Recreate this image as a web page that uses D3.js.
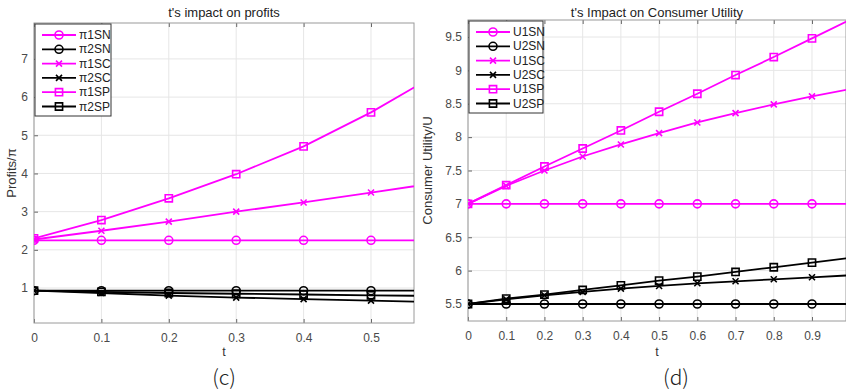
<!DOCTYPE html>
<html>
<head>
<meta charset="utf-8">
<script src="https://cdn.jsdelivr.net/npm/d3@7"></script>
<style>
  body { margin: 0; background: #fff; }
  svg { font-family: "Liberation Sans", Arial, sans-serif; }
  .grid line { stroke: #e6e6e6; stroke-width: 1; }
  .tick text { fill: #4a4a4a; font-size: 12px; }
</style>
</head>
<body>
<svg width="846" height="392"></svg>
<script>
// t values
var tLeft = [0, 0.1, 0.2, 0.3, 0.4, 0.5, 0.6];
var tRight = [0, 0.1, 0.2, 0.3, 0.4, 0.5, 0.6, 0.7, 0.8, 0.9, 1.0];

// profits (c)
var pi1SN = [2.25, 2.25, 2.25, 2.25, 2.25, 2.25, 2.25];
var pi2SN = [0.93, 0.93, 0.93, 0.93, 0.93, 0.93, 0.93];
var pi1SC = [2.27, 2.50, 2.74, 3.00, 3.24, 3.50, 3.76];
var pi2SC = [0.93, 0.87, 0.80, 0.75, 0.71, 0.67, 0.63];
var pi1SP = [2.30, 2.78, 3.35, 3.98, 4.71, 5.60, 6.62];
var pi2SP = [0.93, 0.90, 0.87, 0.85, 0.83, 0.81, 0.79];

// consumer utility (d)
var U1SN = [7, 7, 7, 7, 7, 7, 7, 7, 7, 7, 7];
var U2SN = [5.5, 5.5, 5.5, 5.5, 5.5, 5.5, 5.5, 5.5, 5.5, 5.5, 5.5];
var U1SC = [7, 7.27, 7.50, 7.71, 7.89, 8.06, 8.22, 8.36, 8.49, 8.61, 8.72];
var U2SC = [5.5, 5.57, 5.63, 5.68, 5.73, 5.77, 5.81, 5.84, 5.87, 5.90, 5.93];
var U1SP = [7, 7.28, 7.56, 7.83, 8.10, 8.38, 8.65, 8.93, 9.20, 9.48, 9.76];
var U2SP = [5.5, 5.58, 5.64, 5.71, 5.78, 5.85, 5.91, 5.98, 6.05, 6.12, 6.19];

var leftTicksX = [0, 0.1, 0.2, 0.3, 0.4, 0.5];
var leftTicksY = [1, 2, 3, 4, 5, 6, 7];
var rightTicksX = [0, 0.1, 0.2, 0.3, 0.4, 0.5, 0.6, 0.7, 0.8, 0.9];
var rightTicksY = [5.5, 6, 6.5, 7, 7.5, 8, 8.5, 9, 9.5];

var magenta = "#ff00ff", black = "#000000";

var svg = d3.select("svg");

function drawPanel(opt) {
  var x = d3.scaleLinear().domain(opt.xDomain).range([opt.left, opt.right]);
  var y = d3.scaleLinear().domain(opt.yDomain).range([opt.bottom, opt.top]);
  var g = svg.append("g");
  var w = opt.right - opt.left, h = opt.bottom - opt.top;

  // grid
  var grid = g.append("g").attr("class", "grid");
  grid.selectAll(".gx").data(opt.xTicks).enter().append("line")
      .attr("x1", function(d) { return x(d); }).attr("x2", function(d) { return x(d); })
      .attr("y1", opt.top).attr("y2", opt.bottom);
  grid.selectAll(".gy").data(opt.yTicks).enter().append("line")
      .attr("y1", function(d) { return y(d); }).attr("y2", function(d) { return y(d); })
      .attr("x1", opt.left).attr("x2", opt.right);

  // axes
  var fmt = function(d) { return String(d); };
  g.append("g").attr("transform", "translate(0," + opt.bottom + ")")
      .call(d3.axisBottom(x).tickValues(opt.xTicks).tickFormat(fmt).tickSizeInner(-4).tickSizeOuter(0).tickPadding(10))
      .call(function(a) { a.select(".domain").remove(); a.selectAll("line").attr("stroke", "#666"); });
  g.append("g").attr("transform", "translate(" + opt.left + ",0)")
      .call(d3.axisLeft(y).tickValues(opt.yTicks).tickFormat(fmt).tickSizeInner(-4).tickSizeOuter(0).tickPadding(6))
      .call(function(a) { a.select(".domain").remove(); a.selectAll("line").attr("stroke", "#666"); });
  g.append("g").attr("transform", "translate(0," + opt.top + ")")
      .call(d3.axisTop(x).tickValues(opt.xTicks).tickFormat("").tickSizeInner(-4).tickSizeOuter(0))
      .call(function(a) { a.select(".domain").remove(); a.selectAll("line").attr("stroke", "#666"); });

  g.append("rect").attr("x", opt.left).attr("y", opt.top).attr("width", w).attr("height", h)
      .attr("fill", "none").attr("stroke", "#9a9a9a").attr("stroke-width", 1);

  // clip
  var cid = "clip" + opt.id;
  svg.append("clipPath").attr("id", cid).append("rect")
      .attr("x", opt.left).attr("y", opt.top - 6).attr("width", w).attr("height", h + 6);
  var plot = g.append("g").attr("clip-path", "url(#" + cid + ")");

  var line = d3.line().x(function(d) { return x(d[0]); }).y(function(d) { return y(d[1]); });

  opt.series.forEach(function(s) {
    var pts = opt.t.map(function(t, i) { return [t, s.values[i]]; });
    plot.append("path").datum(pts).attr("d", line)
        .attr("fill", "none").attr("stroke", s.color).attr("stroke-width", 1.8);
    var mk = pts.filter(function(p) { return x(p[0]) <= opt.right - 4; });
    plot.selectAll(null).data(mk).enter().append("path")
        .attr("transform", function(d) { return "translate(" + x(d[0]) + "," + y(d[1]) + ")"; })
        .attr("d", markerPath(s.marker))
        .attr("fill", "none").attr("stroke", s.color).attr("stroke-width", 1.6);
  });

  // legend
  var lg = g.append("g");
  lg.append("rect").attr("x", opt.left + 1).attr("y", opt.top + 1)
      .attr("width", opt.legendW).attr("height", 92)
      .attr("fill", "#fff").attr("stroke", "#333").attr("stroke-width", 1);
  opt.series.forEach(function(s, i) {
    var ly = opt.top + 12 + i * 14.3;
    var x0 = opt.left + 8, x1 = opt.left + 42;
    lg.append("line").attr("x1", x0).attr("x2", x1).attr("y1", ly).attr("y2", ly)
        .attr("stroke", s.color).attr("stroke-width", 1.8);
    lg.append("path").attr("transform", "translate(" + ((x0 + x1) / 2) + "," + ly + ")")
        .attr("d", markerPath(s.marker)).attr("fill", "none")
        .attr("stroke", s.color).attr("stroke-width", 1.6);
    lg.append("text").attr("x", x1 + 3).attr("y", ly + 4)
        .attr("font-size", "12px").attr("fill", "#222").text(s.name);
  });

  // title & labels
  svg.append("text").attr("x", opt.titleX).attr("y", 17).attr("text-anchor", "middle")
      .attr("font-size", "13px").attr("fill", "#222").text(opt.title);
  svg.append("text").attr("x", opt.titleX).attr("y", 356).attr("text-anchor", "middle")
      .attr("font-size", "12.5px").attr("fill", "#333").text("t");
  svg.append("text").attr("transform", "translate(" + opt.ylabX + "," + ((opt.top + opt.bottom) / 2) + ") rotate(-90)")
      .attr("text-anchor", "middle").attr("font-size", "13px").attr("fill", "#333").text(opt.ylabel);
  svg.append("text").attr("x", opt.capX).attr("y", 385).attr("text-anchor", "middle")
      .attr("font-family", "'Noto Sans CJK SC', 'Noto Sans', sans-serif").attr("font-weight", 300)
      .attr("font-size", "21px").attr("fill", "#222").text(opt.caption);
}

function markerPath(kind) {
  if (kind === "o") return "M4,0A4,4 0 1,1 -4,0A4,4 0 1,1 4,0Z";
  if (kind === "s") return "M-3.6,-3.6H3.6V3.6H-3.6Z";
  return "M-3,-3L3,3M-3,3L3,-3";
}

drawPanel({
  id: "c", left: 34, right: 414, top: 23, bottom: 323,
  xDomain: [0, 0.5638], yDomain: [0.084, 7.94],
  xTicks: leftTicksX, yTicks: leftTicksY, t: tLeft,
  title: "t's impact on profits", titleX: 224, ylabel: "Profits/\u03c0", ylabX: 16,
  caption: "(c)", capX: 224, legendW: 76,
  series: [
    {name: "\u03c01SN", values: pi1SN, color: magenta, marker: "o"},
    {name: "\u03c02SN", values: pi2SN, color: black, marker: "o"},
    {name: "\u03c01SC", values: pi1SC, color: magenta, marker: "x"},
    {name: "\u03c02SC", values: pi2SC, color: black, marker: "x"},
    {name: "\u03c01SP", values: pi1SP, color: magenta, marker: "s"},
    {name: "\u03c02SP", values: pi2SP, color: black, marker: "s"}
  ]
});

drawPanel({
  id: "d", left: 468, right: 846, top: 20, bottom: 321,
  xDomain: [0, 0.989], yDomain: [5.245, 9.755],
  xTicks: rightTicksX, yTicks: rightTicksY, t: tRight,
  title: "t's Impact on Consumer Utility", titleX: 657, ylabel: "Consumer Utility/U", ylabX: 432,
  caption: "(d)", capX: 676, legendW: 74,
  series: [
    {name: "U1SN", values: U1SN, color: magenta, marker: "o"},
    {name: "U2SN", values: U2SN, color: black, marker: "o"},
    {name: "U1SC", values: U1SC, color: magenta, marker: "x"},
    {name: "U2SC", values: U2SC, color: black, marker: "x"},
    {name: "U1SP", values: U1SP, color: magenta, marker: "s"},
    {name: "U2SP", values: U2SP, color: black, marker: "s"}
  ]
});
</script>
</body>
</html>
